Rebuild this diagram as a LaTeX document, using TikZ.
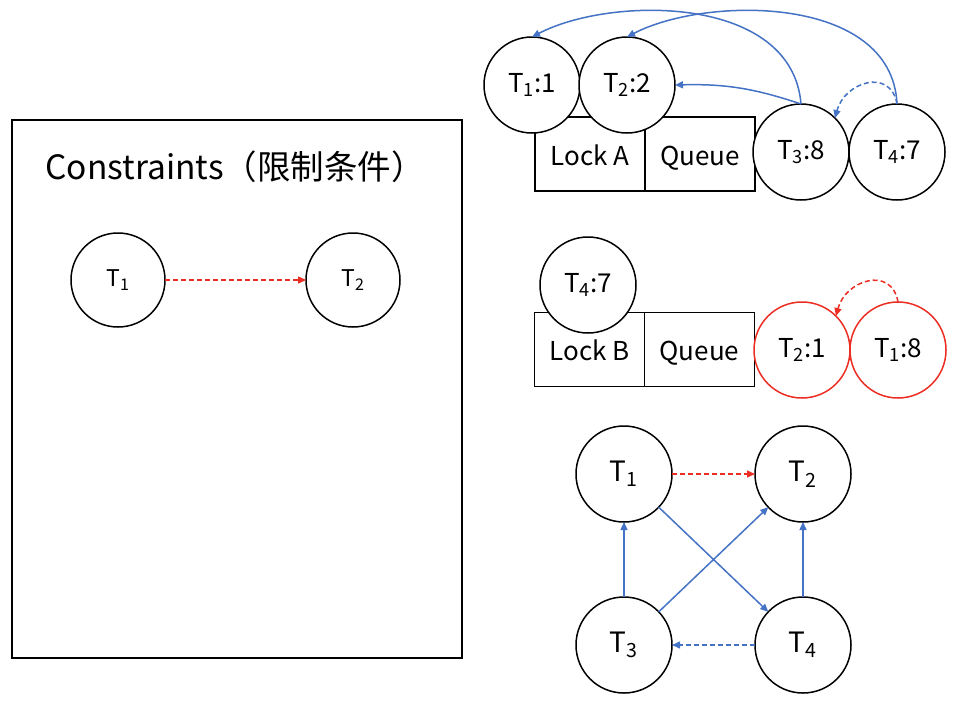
\documentclass[tikz,border=0pt]{standalone}
\usepackage{fontspec}
\setmainfont{Noto Sans CJK SC}
\usetikzlibrary{arrows.meta,positioning}
\definecolor{lkblue}{RGB}{68,114,196}
\definecolor{lkred}{RGB}{235,45,35}

\begin{document}
\begin{tikzpicture}[
  x=1pt, y=-1pt,
  tcirc/.style={circle, draw, fill=white, line width=1.5pt, outer sep=0pt, inner sep=0pt, minimum size=96pt, font=\fontsize{26}{30}\selectfont},
  ccirc/.style={tcirc, minimum size=94pt, font=\fontsize{23}{27}\selectfont},
  gcirc/.style={tcirc, font=\fontsize{28}{32}\selectfont},
  cell/.style={draw, line width=1.5pt, outer sep=0pt, inner sep=0pt, minimum width=110pt, minimum height=74pt, text height=22pt, text depth=0pt, font=\fontsize{26}{30}\selectfont},
  arrow/.style={-{Triangle[length=8pt, width=7pt]}, line width=1.5pt, lkblue},
  redarrow/.style={arrow, lkred},
  hint/.style={dash pattern=on 5pt off 3pt}
]
  \useasboundingbox (0,0) rectangle (960,702);

  % constraints panel
  \node[draw, line width=1.5pt, outer sep=0pt, minimum width=450pt, minimum height=538pt, anchor=north west] (panel) at (12,120) {};
  \node[anchor=west, font=\fontsize{33.5}{38}\selectfont] (title) at (42,167) {Constraints（限制条件）};
  \node[ccirc] (c1) at (118,280) {T\textsubscript{1}};
  \node[ccirc] (c2) at (353,280) {T\textsubscript{2}};
  \draw[redarrow, hint] (c1) -- (c2);

  % lock A
  \node[cell] (locka) at (590,154) {Lock A};
  \node[cell, right=0pt of locka] (queuea) {Queue};
  \node[tcirc] (a1) at (532,85) {T\textsubscript{1}:1};
  \node[tcirc] (a2) at (627,85) {T\textsubscript{2}:2};
  \node[tcirc] (a3) at (801,152) {T\textsubscript{3}:8};
  \node[tcirc, right=0pt of a3] (a4) {T\textsubscript{4}:7};
  \draw[arrow] (a3.north) .. controls (792,-6) and (610,-4) .. (a1.north);
  \draw[arrow] (a4.north) .. controls (892,-6) and (705,-4) .. (a2.north);
  \draw[arrow] (a3.north) to[bend right=10] (a2.east);
  \draw[arrow, hint] (a4.north) to[out=100, in=75, looseness=1.5] (a3.45);

  % lock B
  \node[cell] (lockb) at (589.5,349.5) {Lock B};
  \node[cell, right=0pt of lockb] (queueb) {Queue};
  \node[tcirc] (b4) at (588,285) {T\textsubscript{4}:7};
  \node[tcirc, draw=lkred] (b2) at (802,350) {T\textsubscript{2}:1};
  \node[tcirc, draw=lkred, right=0pt of b2] (b1) {T\textsubscript{1}:8};
  \draw[redarrow, hint] (b1.north) to[out=100, in=75, looseness=1.5] (b2.45);

  % wait-for graph
  \node[gcirc] (g1) at (624,474) {T\textsubscript{1}};
  \node[gcirc, right=83pt of g1] (g2) {T\textsubscript{2}};
  \node[gcirc] (g3) at (624,645) {T\textsubscript{3}};
  \node[gcirc, right=83pt of g3] (g4) {T\textsubscript{4}};
  \draw[redarrow, hint] (g1) -- (g2);
  \draw[arrow] (g3) -- (g1);
  \draw[arrow] (g4) -- (g2);
  \draw[arrow] (g3) -- (g2);
  \draw[arrow] (g1) -- (g4);
  \draw[arrow, hint] (g4) -- (g3);
\end{tikzpicture}
\end{document}
